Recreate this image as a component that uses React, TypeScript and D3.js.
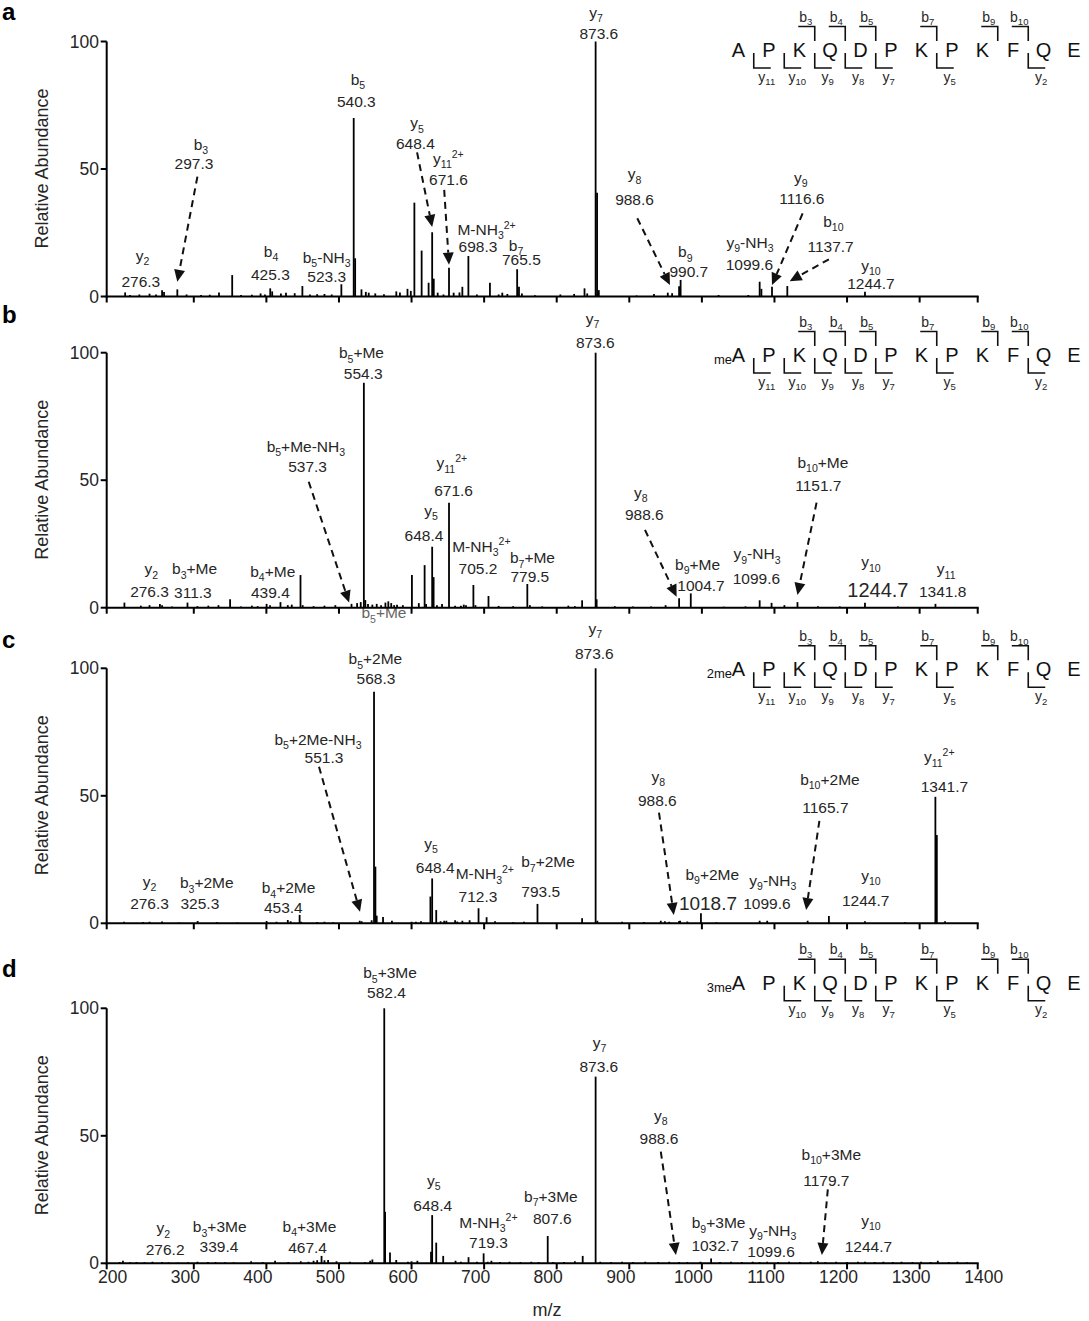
import React from "react";
import * as d3 from "d3";

type Pt = [number, number];
interface Ion {
  name: string;
  value: string;
  nameAt: Pt;
  valueAt: Pt;
  arrow?: [Pt, Pt];
  valueSize?: number;
  faint?: boolean;
}

// ---------- axes ----------
const MZ_RANGE: Pt = [200, 1400];
const MZ_TICKS = [200, 300, 400, 500, 600, 700, 800, 900, 1000, 1100, 1200, 1300, 1400];
const ABUNDANCE_TICKS = [0, 50, 100];

// ---------- peptide ----------
const SEQUENCE = ["A", "P", "K", "Q", "D", "P", "K", "P", "K", "F", "Q", "E"];
// [ion number, cleavage after residue index]
const B_IONS: Pt[] = [[3, 2], [4, 3], [5, 4], [7, 6], [9, 8], [10, 9]];
const Y_IONS: Pt[] = [[11, 0], [10, 1], [9, 2], [8, 3], [7, 4], [5, 6], [2, 9]];

// ---------- spectra: [m/z, relative abundance] ----------
const spectrumA: Pt[] = [
  [225.4, 1.6], [232, 0.6], [245, 0.8], [259, 1.1], [268, 0.8], [276.3, 2.5], [279, 1.8], [297.3, 2.8],
  [310, 0.8], [330, 0.6], [342, 0.7], [354.7, 1.6], [372.9, 8.4], [385, 0.6], [400, 0.7], [412, 1.2],
  [418, 0.8], [425.3, 3.2], [428, 2.0], [440, 1.2], [447, 1.5], [459, 1.3], [469.6, 4.1], [480, 0.8],
  [490, 0.9], [500, 1.0], [510, 0.8], [523.3, 4.8], [540.3, 70], [542.3, 15], [551, 2.8], [557, 1.8],
  [561, 1.5], [570, 1.2], [582, 0.9], [599, 2.0], [604, 1.6], [614.4, 3.0], [619, 2.2], [623.9, 36.8],
  [633.9, 18], [643.5, 5.4], [648.4, 25.2], [650.6, 7], [656, 1.5], [664, 0.8], [671.6, 11.3], [678, 1.5],
  [686, 1.6], [690, 3.8], [698.3, 15.9], [710, 0.8], [728, 5.4], [740, 0.8], [745, 1.5], [752, 1.0],
  [765.5, 10.7], [768, 3.8], [772, 1.2], [790, 0.5], [825, 0.8], [844, 1.0], [858.3, 3.2], [862, 1.2],
  [873.6, 100], [875.6, 40.7], [878, 2.5], [930, 0.4], [954, 1.0], [973, 1.5], [979, 1.3], [988.6, 4.0],
  [990.7, 6.5], [1043, 0.6], [1084, 0.6], [1099.6, 5.8], [1102, 3.0], [1116.6, 3.8], [1137.7, 4.1],
  [1244.7, 1.9],
];

const spectrumB: Pt[] = [
  [224.4, 2], [247, 0.8], [259, 1], [273.3, 1.5], [276.3, 1], [290, 0.5], [311.3, 2], [325, 0.6],
  [340, 0.8], [354, 1], [370, 3.3], [385, 0.5], [400, 0.8], [408, 0.6], [420.3, 1.5], [425, 1],
  [439.4, 2.2], [449.5, 1], [455, 1.2], [467, 12.8], [470, 1], [485, 0.6], [500, 0.8], [515, 1],
  [537.3, 1.5], [545, 1.8], [550, 2.2], [554.3, 88.2], [556.3, 3], [560, 1.5], [566, 1.2], [572, 1.5],
  [578, 1], [584, 2], [588, 2.5], [592, 1.8], [596, 1], [600, 1.2], [608, 1], [620.5, 12.8], [630, 1.8],
  [638, 16.7], [640, 1.5], [648.4, 23.9], [650.4, 12], [655, 1], [662, 1.5], [671.6, 41.2], [680, 0.8],
  [688, 0.8], [692, 1.2], [695, 1], [705.2, 8.9], [708, 1], [726, 4.6], [740, 0.7], [760, 0.6],
  [779.5, 9.3], [783, 1], [800, 0.5], [836, 0.8], [845, 0.6], [855, 2.9], [873.6, 100], [875, 3.3],
  [900, 0.6], [925, 0.5], [950, 0.5], [970, 1], [988.6, 3.7], [1004.7, 5.6], [1050, 0.4], [1080, 0.5],
  [1099.6, 2.9], [1116, 1.9], [1133.7, 1], [1151.7, 2.2], [1180, 0.6], [1210, 0.5], [1244.7, 1.9],
  [1290, 0.5], [1341.8, 1.5],
];

const spectrumC: Pt[] = [
  [224, 0.6], [250, 0.5], [259, 0.6], [276.3, 0.7], [300, 0.3], [325.3, 0.9], [352, 0.4], [380, 0.3],
  [420.3, 0.9], [434, 0.6], [449.5, 1.3], [453.4, 0.8], [465.8, 3.3], [468, 0.6], [490, 0.5], [500, 0.6],
  [512, 0.4], [548.6, 1], [551.3, 0.8], [565, 1.2], [568.3, 90.8], [570.2, 22.2], [572, 3], [580.7, 2.5],
  [593, 1], [620, 0.6], [626, 0.6], [633, 0.8], [646, 10.5], [648.4, 17.6], [654, 5.2], [660, 0.8],
  [665, 1], [668, 1], [680, 1.2], [683, 0.7], [690, 1], [700, 1.2], [712.3, 5.9], [723.4, 2.4],
  [735, 0.8], [760, 0.4], [775, 0.6], [793.5, 7.6], [855, 2], [873.6, 100], [876, 1], [910, 0.6],
  [940, 0.5], [963.4, 1], [969, 0.8], [975, 0.6], [988.6, 0.9], [990, 1], [1000, 0.7], [1018.7, 3.9],
  [1040, 0.4], [1099.6, 1], [1110, 1], [1165.7, 1], [1195, 2.9], [1244.7, 0.8], [1300, 0.4],
  [1341.7, 49.6], [1343.7, 34.6], [1355, 0.8],
];

const spectrumD: Pt[] = [
  [218, 0.5], [222.4, 1], [232, 0.4], [241, 0.5], [252, 0.4], [263, 0.6], [276.2, 0.5], [285, 0.4],
  [298, 0.3], [312, 0.4], [325, 0.6], [339.4, 0.5], [350, 0.5], [363, 0.4], [375, 0.4], [399, 0.8],
  [415, 0.5], [432, 1], [450, 0.5], [467.4, 0.8], [478, 0.6], [485, 1], [490, 1.2], [496, 2.9],
  [500, 1.2], [505, 1.3], [516.6, 0.8], [535, 0.6], [556, 0.4], [563, 1], [566, 1.5], [582.4, 100],
  [583.6, 20.2], [590.3, 4.2], [598.9, 1.3], [615, 0.6], [620, 0.8], [628, 1], [646.8, 4.5],
  [648.4, 18.9], [654, 8.1], [663.6, 2.9], [680.6, 1], [688, 0.6], [698.5, 2.4], [710, 0.6],
  [719.3, 3.9], [725, 0.6], [730, 1], [742, 0.5], [755, 0.6], [770, 0.5], [785, 0.6], [795, 0.5],
  [807.6, 10.7], [815, 0.5], [830, 0.5], [845, 0.8], [855.8, 2.9], [873.6, 73.2], [880, 0.6],
  [895, 0.5], [910, 0.6], [925, 0.5], [942, 0.6], [960, 0.5], [975, 0.6], [988.6, 0.5], [1000, 0.5],
  [1018, 0.6], [1032.7, 1.9], [1045, 0.5], [1060, 0.6], [1075, 0.5], [1090, 0.6], [1099.6, 0.5],
  [1110, 0.6], [1125, 0.5], [1140, 0.6], [1155, 0.5], [1170, 0.6], [1179.7, 0.8], [1190, 0.5],
  [1205, 0.6], [1220, 0.5], [1235, 0.6], [1244.7, 0.6], [1258, 0.5], [1270, 0.6], [1283, 0.5],
  [1295, 0.6], [1310, 0.5], [1322, 0.6], [1335, 0.5], [1345, 1], [1360, 0.5], [1372, 0.6], [1385, 0.4],
];

// ---------- fragment annotations (placed in m/z / abundance units) ----------
const ionsA: Ion[] = [
  { name: "y_{2}", value: "276.3", nameAt: [249.3, 14.0], valueAt: [247.0, 3.9] },
  { name: "b_{3}", value: "297.3", nameAt: [329.8, 57.5], valueAt: [320.3, 50.1], arrow: [[325, 47], [297.3, 5.8]] },
  { name: "b_{4}", value: "425.3", nameAt: [426.5, 15.6], valueAt: [425.5, 6.3] },
  { name: "b_{5}-NH_{3}", value: "523.3", nameAt: [503.1, 13.3], valueAt: [503.1, 5.6] },
  { name: "b_{5}", value: "540.3", nameAt: [546.2, 82.9], valueAt: [543.9, 74.2] },
  { name: "y_{5}", value: "648.4", nameAt: [627.5, 65.9], valueAt: [625.3, 57.9], arrow: [[627.6, 56.5], [648.4, 27.3]] },
  { name: "y_{11}^{2+}", value: "671.6", nameAt: [670.8, 51.9], valueAt: [670.8, 43.8], arrow: [[665, 41.8], [671.6, 12.5]] },
  { name: "M-NH_{3}^{2+}", value: "698.3", nameAt: [723.4, 24.1], valueAt: [711.5, 17.4] },
  { name: "b_{7}", value: "765.5", nameAt: [764, 17.9], valueAt: [771.3, 12.2] },
  { name: "y_{7}", value: "873.6", nameAt: [874.1, 109.4], valueAt: [878, 101.1] },
  { name: "y_{8}", value: "988.6", nameAt: [927.2, 46], valueAt: [927.2, 36], arrow: [[931, 30.7], [976, 4.5]] },
  { name: "b_{9}", value: "990.7", nameAt: [997.2, 15.4], valueAt: [1002, 7.6] },
  { name: "y_{9}-NH_{3}", value: "1099.6", nameAt: [1086.3, 19.2], valueAt: [1085.5, 10.2] },
  { name: "y_{9}", value: "1116.6", nameAt: [1156.4, 44.7], valueAt: [1157.8, 36.4], arrow: [[1158.8, 32.6], [1116.6, 4.5]] },
  { name: "b_{10}", value: "1137.7", nameAt: [1201.2, 27.4], valueAt: [1197.3, 17.4], arrow: [[1195, 14.6], [1141, 6]] },
  { name: "y_{10}", value: "1244.7", nameAt: [1252.9, 10.1], valueAt: [1252.9, 3.0] },
];

const ionsB: Ion[] = [
  { name: "y_{2}", value: "276.3", nameAt: [261.3, 13.1], valueAt: [259, 4.1] },
  { name: "b_{3}+Me", value: "311.3", nameAt: [321.1, 13.1], valueAt: [318.8, 3.7] },
  { name: "b_{4}+Me", value: "439.4", nameAt: [428.8, 12.2], valueAt: [425.5, 3.7] },
  { name: "b_{5}+Me-NH_{3}", value: "537.3", nameAt: [474.4, 61.2], valueAt: [476.8, 53.4], arrow: [[478.3, 49.4], [534, 2]] },
  { name: "b_{5}+Me", value: "554.3", nameAt: [551, 97.8], valueAt: [553.4, 89.8] },
  { name: "b_{5}+Me", value: "", nameAt: [582, -4.2], valueAt: [582, -4.2], faint: true },
  { name: "y_{11}^{2+}", value: "671.6", nameAt: [675.6, 54.6], valueAt: [677.9, 44] },
  { name: "y_{5}", value: "648.4", nameAt: [646.8, 36], valueAt: [637.1, 26] },
  { name: "M-NH_{3}^{2+}", value: "705.2", nameAt: [716.2, 22], valueAt: [711.5, 13.3] },
  { name: "b_{7}+Me", value: "779.5", nameAt: [786.6, 17.4], valueAt: [783, 10] },
  { name: "y_{7}", value: "873.6", nameAt: [869.3, 111.2], valueAt: [873.2, 101.9] },
  { name: "y_{8}", value: "988.6", nameAt: [935.9, 43.2], valueAt: [940.7, 34.2], arrow: [[941.6, 30.5], [985.2, 4.3]] },
  { name: "b_{9}+Me", value: "1004.7", nameAt: [1014.1, 14.8], valueAt: [1018.8, 6.4] },
  { name: "y_{9}-NH_{3}", value: "1099.6", nameAt: [1095.9, 19], valueAt: [1095.1, 9.4] },
  { name: "b_{10}+Me", value: "1151.7", nameAt: [1186.7, 54.9], valueAt: [1180.5, 45.6], arrow: [[1178, 41.2], [1151.7, 5]] },
  { name: "y_{10}", value: "1244.7", nameAt: [1252.9, 15.8], valueAt: [1262.5, 4.2], valueSize: 20 },
  { name: "y_{11}", value: "1341.8", nameAt: [1356.6, 13.1], valueAt: [1351.8, 4.1] },
];

const ionsC: Ion[] = [
  { name: "y_{2}", value: "276.3", nameAt: [259, 14.3], valueAt: [259, 5.7] },
  { name: "b_{3}+2Me", value: "325.3", nameAt: [337.9, 13.7], valueAt: [328.4, 5.7] },
  { name: "b_{4}+2Me", value: "453.4", nameAt: [450.5, 11.8], valueAt: [443.3, 4.1] },
  { name: "b_{5}+2Me-NH_{3}", value: "551.3", nameAt: [491.1, 70], valueAt: [499.4, 62.9], arrow: [[492.5, 61.4], [549, 4.5]] },
  { name: "b_{5}+2Me", value: "568.3", nameAt: [570.2, 101.6], valueAt: [571, 94] },
  { name: "y_{5}", value: "648.4", nameAt: [646.8, 29.3], valueAt: [652.6, 19.6] },
  { name: "M-NH_{3}^{2+}", value: "712.3", nameAt: [721, 17.3], valueAt: [711.5, 8.5] },
  { name: "b_{7}+2Me", value: "793.5", nameAt: [808, 22], valueAt: [798, 10.5] },
  { name: "y_{7}", value: "873.6", nameAt: [873.2, 113.4], valueAt: [871.8, 103.5] },
  { name: "y_{8}", value: "988.6", nameAt: [960, 55.5], valueAt: [958.6, 45.9], arrow: [[960.9, 43.4], [981.3, 3.3]] },
  { name: "b_{9}+2Me", value: "1018.7", nameAt: [1034.3, 17], valueAt: [1028.4, 5.4], valueSize: 19 },
  { name: "y_{9}-NH_{3}", value: "1099.6", nameAt: [1117.7, 14.7], valueAt: [1109.6, 5.7] },
  { name: "b_{10}+2Me", value: "1165.7", nameAt: [1196.4, 54.3], valueAt: [1190.2, 43.3], arrow: [[1181.9, 40.2], [1163.6, 5.2]] },
  { name: "y_{10}", value: "1244.7", nameAt: [1252.9, 16.7], valueAt: [1245.6, 6.7] },
  { name: "y_{11}^{2+}", value: "1341.7", nameAt: [1347, 63.1], valueAt: [1354.1, 51.4] },
];

const ionsD: Ion[] = [
  { name: "y_{2}", value: "276.2", nameAt: [278.1, 11.7], valueAt: [280.5, 3.1] },
  { name: "b_{3}+3Me", value: "339.4", nameAt: [355.7, 12.2], valueAt: [354.7, 4.4] },
  { name: "b_{4}+3Me", value: "467.4", nameAt: [479.3, 12.4], valueAt: [476.8, 4] },
  { name: "b_{5}+3Me", value: "582.4", nameAt: [590.3, 111.8], valueAt: [585.5, 104] },
  { name: "y_{5}", value: "648.4", nameAt: [650.6, 30.4], valueAt: [649.1, 20.7] },
  { name: "M-NH_{3}^{2+}", value: "719.3", nameAt: [725.9, 14], valueAt: [725.9, 5.9] },
  { name: "b_{7}+3Me", value: "807.6", nameAt: [812, 24.2], valueAt: [814, 15.5] },
  { name: "y_{7}", value: "873.6", nameAt: [878.9, 84.6], valueAt: [878, 75.2] },
  { name: "y_{8}", value: "988.6", nameAt: [963.4, 55.9], valueAt: [960.9, 46.9], arrow: [[963.4, 43.8], [984.2, 3.3]] },
  { name: "b_{9}+3Me", value: "1032.7", nameAt: [1043, 13.7], valueAt: [1038.2, 5] },
  { name: "y_{9}-NH_{3}", value: "1099.6", nameAt: [1117.7, 10.8], valueAt: [1115.3, 2.4] },
  { name: "b_{10}+3Me", value: "1179.7", nameAt: [1198.3, 40.5], valueAt: [1191.5, 30.5], arrow: [[1193.5, 29], [1185.3, 3.3]] },
  { name: "y_{10}", value: "1244.7", nameAt: [1252.9, 14.7], valueAt: [1249.4, 4.4] },
];

// ---------- layout ----------
const W = 1089;
const H = 1321;
const PLOT_LEFT = 106.7;
const PLOT_RIGHT = 977.7;
const PLOT_H = 255;
const TICK_MARK_SHIFT = 20; // interior tick marks sit this many m/z units right of their labels
const FONT = "'Liberation Sans', Arial, Helvetica, sans-serif";
const LABEL_COLOR = "#262626";
const SEQ_X0 = 738.5;
const SEQ_STEP = 30.5;

const PANELS = [
  { tag: "a", base: 296.5, tagY: 20, seqY: 57, prefix: "", spectrum: spectrumA, ions: ionsA, yIons: Y_IONS, tickLabels: false },
  { tag: "b", base: 607.7, tagY: 323, seqY: 362, prefix: "me", spectrum: spectrumB, ions: ionsB, yIons: Y_IONS, tickLabels: false },
  { tag: "c", base: 923.3, tagY: 648, seqY: 676.3, prefix: "2me", spectrum: spectrumC, ions: ionsC, yIons: Y_IONS, tickLabels: false },
  { tag: "d", base: 1263.3, tagY: 977, seqY: 989.7, prefix: "3me", spectrum: spectrumD, ions: ionsD, yIons: Y_IONS.filter(([n]) => n !== 11), tickLabels: true },
];

const xScale = d3.scaleLinear().domain(MZ_RANGE).range([PLOT_LEFT, PLOT_RIGHT]);

function Rich({ text, x, y, size, fill = LABEL_COLOR, anchor = "middle" }: { text: string; x: number; y: number; size: number; fill?: string; anchor?: string }) {
  const parts = text.split(/(_\{[^}]*\}|\^\{[^}]*\})/).filter((s) => s.length > 0);
  let cur = 0;
  const small = size * 0.68;
  return (
    <text x={x} y={y} fontSize={size} textAnchor={anchor} fill={fill}>
      {parts.map((p, i) => {
        let target = 0;
        let content = p;
        let fs = size;
        if (p.startsWith("_{")) {
          target = size * 0.28;
          content = p.slice(2, -1);
          fs = small;
        } else if (p.startsWith("^{")) {
          target = -size * 0.42;
          content = p.slice(2, -1);
          fs = small;
        }
        const dy = target - cur;
        cur = target;
        return (
          <tspan key={i} dy={dy} fontSize={fs}>
            {content}
          </tspan>
        );
      })}
    </text>
  );
}

function Arrow({ from, to }: { from: Pt; to: Pt }) {
  const [x0, y0] = from;
  const [x1, y1] = to;
  const len = Math.hypot(x1 - x0, y1 - y0);
  const ux = (x1 - x0) / len;
  const uy = (y1 - y0) / len;
  const head = 12;
  const half = 5.5;
  const bx = x1 - ux * head;
  const by = y1 - uy * head;
  const pts = [
    [x1, y1],
    [bx - uy * half, by + ux * half],
    [bx + uy * half, by - ux * half],
  ];
  return (
    <g>
      <line x1={x0} y1={y0} x2={bx} y2={by} stroke="#111" strokeWidth={2} strokeDasharray="7,5" />
      <polygon points={pts.map((p) => p.join(",")).join(" ")} fill="#111" />
    </g>
  );
}

function Sequence({ seqY, prefix, yIons }: { seqY: number; prefix: string; yIons: Pt[] }) {
  const letterX = (i: number) => SEQ_X0 + i * SEQ_STEP;
  const mid = (i: number) => (letterX(i) + letterX(i + 1)) / 2;
  return (
    <g>
      {prefix && (
        <text x={letterX(0) - 6.5} y={seqY + 2} fontSize={13} textAnchor="end" fill="#111">
          {prefix}
        </text>
      )}
      {SEQUENCE.map((r, i) => (
        <text key={i} x={letterX(i)} y={seqY} fontSize={20} textAnchor="middle" fill="#111">
          {r}
        </text>
      ))}
      {B_IONS.map(([n, after]) => {
        const xm = mid(after);
        const top = seqY - 30.5;
        return (
          <g key={"b" + n}>
            <path d={`M${xm - 16.5},${top} H${xm} V${seqY - 16}`} fill="none" stroke="#111" strokeWidth={1.6} />
            <Rich text={`b_{${n}}`} x={xm - 9} y={seqY - 35.5} size={14} />
          </g>
        );
      })}
      {yIons.map(([n, after]) => {
        const xm = mid(after);
        const bottom = seqY + 11;
        return (
          <g key={"y" + n}>
            <path d={`M${xm},${seqY - 4} V${bottom} H${xm + 17}`} fill="none" stroke="#111" strokeWidth={1.6} />
            <Rich text={`y_{${n}}`} x={xm + 13} y={seqY + 24.5} size={14} />
          </g>
        );
      })}
    </g>
  );
}

function Panel({ p }: { p: (typeof PANELS)[number] }) {
  const yScale = d3.scaleLinear().domain([0, 100]).range([p.base, p.base - PLOT_H]);
  const at = (pt: Pt): Pt => [xScale(pt[0]), yScale(pt[1])];
  const tickX = (v: number, i: number) =>
    i === 0 || i === MZ_TICKS.length - 1 ? xScale(v) : xScale(v + TICK_MARK_SHIFT);
  return (
    <g>
      <text x={2} y={p.tagY} fontSize={24} fontWeight="bold" fill="#000">
        {p.tag}
      </text>
      {/* peaks */}
      {p.spectrum.map(([mz, ab], i) => (
        <line key={i} x1={xScale(mz)} x2={xScale(mz)} y1={yScale(0)} y2={yScale(ab)} stroke="#000" strokeWidth={1.8} />
      ))}
      {/* annotations */}
      {p.ions.map((ion, i) => {
        const [nx, ny] = at(ion.nameAt);
        const [vx, vy] = at(ion.valueAt);
        return (
          <g key={i}>
            <Rich text={ion.name} x={nx} y={ny} size={15.5} fill={ion.faint ? "#666" : LABEL_COLOR} />
            {ion.value && (
              <text x={vx} y={vy} fontSize={ion.valueSize ?? 15.5} textAnchor="middle" fill={LABEL_COLOR}>
                {ion.value}
              </text>
            )}
            {ion.arrow && <Arrow from={at(ion.arrow[0])} to={at(ion.arrow[1])} />}
          </g>
        );
      })}
      {/* y axis */}
      <line x1={PLOT_LEFT} x2={PLOT_LEFT} y1={yScale(0) + 1} y2={yScale(100)} stroke="#000" strokeWidth={2} />
      {ABUNDANCE_TICKS.map((t) => (
        <g key={t}>
          <line x1={PLOT_LEFT - 6} x2={PLOT_LEFT} y1={yScale(t)} y2={yScale(t)} stroke="#000" strokeWidth={2} />
          <text x={99} y={yScale(t) + 6} fontSize={17.5} textAnchor="end" fill={LABEL_COLOR}>
            {t}
          </text>
        </g>
      ))}
      <text
        transform={`translate(48,${p.base - 128}) rotate(-90)`}
        fontSize={18}
        textAnchor="middle"
        fill={LABEL_COLOR}
      >
        Relative Abundance
      </text>
      {/* x axis */}
      <line x1={PLOT_LEFT - 1} x2={PLOT_RIGHT + 1} y1={yScale(0)} y2={yScale(0)} stroke="#000" strokeWidth={2} />
      {MZ_TICKS.map((v, i) => (
        <g key={v}>
          <line x1={tickX(v, i)} x2={tickX(v, i)} y1={yScale(0)} y2={yScale(0) + 6} stroke="#000" strokeWidth={2} />
          {p.tickLabels && (
            <text x={xScale(v) + 6} y={yScale(0) + 20} fontSize={17.5} textAnchor="middle" fill={LABEL_COLOR}>
              {v}
            </text>
          )}
        </g>
      ))}
      {p.tickLabels && (
        <text x={547} y={p.base + 53} fontSize={18} textAnchor="middle" fill={LABEL_COLOR}>
          m/z
        </text>
      )}
      <Sequence seqY={p.seqY} prefix={p.prefix} yIons={p.yIons} />
    </g>
  );
}

export default function App() {
  return (
    <svg
      width={W}
      height={H}
      viewBox={`0 0 ${W} ${H}`}
      style={{ position: "absolute", left: 0, top: 0, display: "block", background: "#fff" }}
      fontFamily={FONT}
    >
      <rect width={W} height={H} fill="#fff" />
      {PANELS.map((p) => (
        <Panel key={p.tag} p={p} />
      ))}
    </svg>
  );
}
